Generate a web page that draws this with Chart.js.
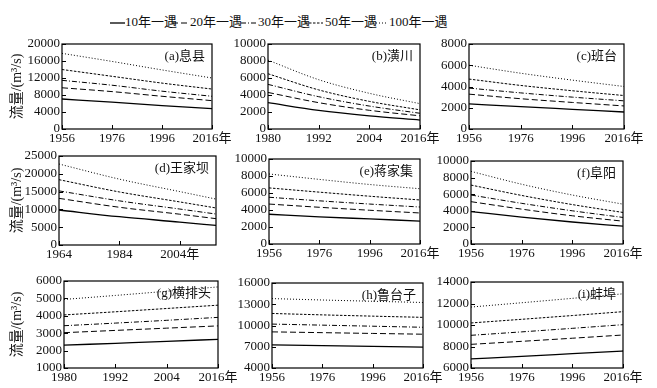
<!DOCTYPE html>
<html>
<head>
<meta charset="utf-8">
<script src="https://cdn.jsdelivr.net/npm/chart.js@4.4.1/dist/chart.umd.min.js"></script>
<style>
  body { margin: 0; background: #fff; width: 657px; height: 388px; position: relative; overflow: hidden;
         font-family: "Liberation Serif", "Times New Roman", "DejaVu Serif", "Noto Sans CJK SC", serif; color: #111; }
  canvas { position: absolute; }
  .leg-line { position: absolute; top: 21px; }
  .leg-text { position: absolute; top: 14px; font-size: 13px; line-height: 16px; white-space: nowrap; }
</style>
</head>
<body>
<div id="legend"></div>
<script>
// return periods, in legend order
const seriesLabels = ['10年一遇', '20年一遇', '30年一遇', '50年一遇', '100年一遇'];

// (a) 息县
const xixianYears = [1956, 1976, 1996, 2016];
const xixianQ = [
  [7060, 6300, 5500, 4800],
  [9700, 8800, 7700, 6670],
  [11450, 10300, 8900, 7700],
  [14000, 12400, 10800, 9400],
  [17800, 15900, 13900, 12000]
];
const xixianYTicks = [0, 4000, 8000, 12000, 16000, 20000];

// (b) 潢川
const huangchuanYears = [1980, 1992, 2004, 2016];
const huangchuanQ = [
  [3100, 2200, 1550, 1050],
  [4300, 3100, 2200, 1550],
  [5250, 3800, 2700, 1850],
  [6500, 4600, 3250, 2250],
  [8100, 5800, 4200, 2980]
];
const huangchuanYTicks = [0, 2000, 4000, 6000, 8000, 10000];

// (c) 班台
const bantaiYears = [1956, 1976, 1996, 2016];
const bantaiQ = [
  [2360, 2100, 1850, 1600],
  [3280, 2850, 2500, 2170],
  [3850, 3400, 3000, 2650],
  [4700, 4100, 3600, 3150],
  [6000, 5250, 4600, 4000]
];
const bantaiYTicks = [0, 2000, 4000, 6000, 8000];

// (d) 王家坝
const wangjiabaYears = [1964, 1984, 2004, 2016];
const wangjiabaQ = [
  [9830, 7950, 6450, 5500],
  [13100, 10600, 8650, 7400],
  [15200, 12400, 10100, 8700],
  [18350, 14900, 12100, 10400],
  [22750, 18500, 15000, 12900]
];
const wangjiabaXTicks = [1964, 1984, 2004];
const wangjiabaYTicks = [0, 5000, 10000, 15000, 20000, 25000];

// (e) 蒋家集
const jiangjiajiYears = [1956, 1976, 1996, 2016];
const jiangjiajiQ = [
  [3500, 3200, 2950, 2700],
  [4700, 4320, 3970, 3650],
  [5500, 5080, 4700, 4350],
  [6600, 6100, 5620, 5180],
  [8240, 7600, 7000, 6500]
];
const jiangjiajiYTicks = [0, 2000, 4000, 6000, 8000, 10000];

// (f) 阜阳
const fuyangYears = [1956, 1976, 1996, 2016];
const fuyangQ = [
  [3900, 3250, 2650, 2150],
  [5100, 4200, 3400, 2750],
  [5900, 4900, 4000, 3200],
  [7100, 5850, 4750, 3800],
  [8750, 7200, 5900, 4800]
];
const fuyangYTicks = [0, 2000, 4000, 6000, 8000, 10000];

// (g) 横排头
const hengpaitouYears = [1980, 1992, 2004, 2016];
const hengpaitouQ = [
  [2310, 2420, 2530, 2650],
  [3030, 3160, 3290, 3420],
  [3430, 3580, 3740, 3910],
  [4050, 4230, 4420, 4610],
  [4940, 5170, 5410, 5660]
];
const hengpaitouYTicks = [1000, 2000, 3000, 4000, 5000, 6000];

// (h) 鲁台子
const lutaiziYears = [1956, 1976, 1996, 2016];
const lutaiziQ = [
  [7270, 7160, 7050, 6950],
  [9100, 8990, 8880, 8770],
  [10200, 10050, 9900, 9750],
  [11700, 11500, 11320, 11150],
  [13800, 13600, 13420, 13250]
];
const lutaiziYTicks = [4000, 7000, 10000, 13000, 16000];

// (i) 蚌埠
const bengbuYears = [1956, 1976, 1996, 2016];
const bengbuQ = [
  [6840, 7080, 7330, 7580],
  [8200, 8480, 8770, 9070],
  [9040, 9360, 9690, 10030],
  [10190, 10530, 10880, 11240],
  [11670, 12070, 12480, 12900]
];
const bengbuYTicks = [6000, 8000, 10000, 12000, 14000];

const FONT = '"Liberation Serif", "Times New Roman", "DejaVu Serif", "Noto Sans CJK SC", serif';
const dashes = [[], [6, 3], [5, 2, 1, 2], [2.5, 1.5], [1, 2]];
const widths = [1.3, 1, 1, 1, 1];

// plot-area boxes (left, top, right, bottom) in page pixels
const panels = [
  { title: '(a)息县', years: xixianYears, q: xixianQ, xTicks: xixianYears, yTicks: xixianYTicks, box: [62, 44, 212, 129], yTitle: true },
  { title: '(b)潢川', years: huangchuanYears, q: huangchuanQ, xTicks: huangchuanYears, yTicks: huangchuanYTicks, box: [268, 44, 420, 129] },
  { title: '(c)班台', years: bantaiYears, q: bantaiQ, xTicks: bantaiYears, yTicks: bantaiYTicks, box: [469, 44, 624, 129] },
  { title: '(d)王家坝', years: wangjiabaYears, q: wangjiabaQ, xTicks: wangjiabaXTicks, yTicks: wangjiabaYTicks, box: [59, 156, 216, 245], yTitle: true },
  { title: '(e)蒋家集', years: jiangjiajiYears, q: jiangjiajiQ, xTicks: jiangjiajiYears, yTicks: jiangjiajiYTicks, box: [269, 159, 420, 244] },
  { title: '(f)阜阳', years: fuyangYears, q: fuyangQ, xTicks: fuyangYears, yTicks: fuyangYTicks, box: [471, 161, 623, 244] },
  { title: '(g)横排头', years: hengpaitouYears, q: hengpaitouQ, xTicks: hengpaitouYears, yTicks: hengpaitouYTicks, box: [64, 281, 218, 368], yTitle: true },
  { title: '(h)鲁台子', years: lutaiziYears, q: lutaiziQ, xTicks: lutaiziYears, yTicks: lutaiziYTicks, box: [272, 283, 423, 368] },
  { title: '(i)蚌埠', years: bengbuYears, q: bengbuQ, xTicks: bengbuYears, yTicks: bengbuYTicks, box: [471, 282, 623, 368] }
];

// legend (html): line start x, line length, text start x
const legendLineX = [110, 172, 241, 305, 370];
const legendLineW = [15, 18, 17, 18, 18];
const legendTextX = [125, 190, 258, 325, 389];
const legendEl = document.getElementById('legend');
seriesLabels.forEach((lab, i) => {
  const s = document.createElementNS('http://www.w3.org/2000/svg', 'svg');
  s.setAttribute('class', 'leg-line');
  s.setAttribute('width', legendLineW[i]);
  s.setAttribute('height', 4);
  s.style.left = legendLineX[i] + 'px';
  s.innerHTML = `<line x1="0" y1="2" x2="${legendLineW[i]}" y2="2" stroke="#000" stroke-width="${widths[i]}" stroke-dasharray="${dashes[i].join(' ') || 'none'}"/>`;
  legendEl.appendChild(s);
  const t = document.createElement('div');
  t.className = 'leg-text';
  t.style.left = legendTextX[i] + 'px';
  t.textContent = lab;
  legendEl.appendChild(t);
});

// box + inward tick marks + panel name
const framePlugin = {
  id: 'frame',
  afterDraw(chart, args, opts) {
    const { ctx, chartArea: a, scales: { x, y } } = chart;
    ctx.save();
    ctx.strokeStyle = '#000';
    ctx.lineWidth = 1.2;
    ctx.strokeRect(a.left, a.top, a.right - a.left, a.bottom - a.top);
    ctx.lineWidth = 1;
    ctx.beginPath();
    x.ticks.forEach(t => {
      const px = Math.round(x.getPixelForValue(t.value)) + 0.5;
      ctx.moveTo(px, a.bottom); ctx.lineTo(px, a.bottom - 4);
    });
    y.ticks.forEach(t => {
      const py = Math.round(y.getPixelForValue(t.value)) + 0.5;
      ctx.moveTo(a.left, py); ctx.lineTo(a.left + 4, py);
    });
    ctx.stroke();
    ctx.fillStyle = '#111';
    ctx.font = '13px ' + FONT;
    ctx.textAlign = 'right';
    ctx.textBaseline = 'middle';
    ctx.fillText(opts.title, a.right - 7, a.top + 13);
    ctx.restore();
  }
};

panels.forEach(p => {
  const [L, T, R, B] = p.box;
  const yW = p.yTitle ? L : 58;
  const topPad = 9, rightPad = 28, xH = 24;
  const cv = document.createElement('canvas');
  const w = yW + (R - L) + rightPad;
  const h = topPad + (B - T) + xH;
  cv.width = w; cv.height = h;
  cv.style.left = (L - yW) + 'px';
  cv.style.top = (T - topPad) + 'px';
  cv.style.width = w + 'px'; cv.style.height = h + 'px';
  document.body.appendChild(cv);

  new Chart(cv, {
    type: 'line',
    data: {
      datasets: p.q.map((vals, i) => ({
        label: seriesLabels[i],
        data: vals.map((v, k) => ({ x: p.years[k], y: v })),
        borderColor: '#000',
        borderWidth: widths[i],
        borderDash: dashes[i],
        pointRadius: 0,
        fill: false,
        cubicInterpolationMode: 'monotone'
      }))
    },
    options: {
      responsive: false,
      animation: false,
      devicePixelRatio: 1,
      layout: { padding: { left: 0, top: topPad, right: rightPad, bottom: 0 } },
      plugins: { legend: { display: false }, tooltip: { enabled: false }, frame: { title: p.title } },
      scales: {
        x: {
          type: 'linear',
          min: p.years[0],
          max: p.years[p.years.length - 1],
          grid: { display: false, drawTicks: false },
          border: { display: false },
          afterBuildTicks: s => { s.ticks = p.xTicks.map(v => ({ value: v })); },
          afterFit: s => { s.height = xH; s.paddingLeft = 0; s.paddingRight = 0; },
          ticks: {
            autoSkip: false, maxRotation: 0, padding: 2, color: '#111',
            font: { family: FONT, size: 13 },
            callback: (v, i, ticks) => i === ticks.length - 1 ? v + '年' : String(v)
          }
        },
        y: {
          min: p.yTicks[0],
          max: p.yTicks[p.yTicks.length - 1],
          grid: { display: false, drawTicks: false },
          border: { display: false },
          afterBuildTicks: s => { s.ticks = p.yTicks.map(v => ({ value: v })); },
          afterFit: s => { s.width = yW; s.paddingTop = 0; s.paddingBottom = 0; },
          ticks: {
            autoSkip: false, padding: 2, color: '#111',
            font: { family: FONT, size: 13 },
            callback: v => String(v)
          },
          title: {
            display: !!p.yTitle,
            text: '流量/(m³/s)',
            color: '#111',
            font: { family: FONT, size: 14 },
            padding: { top: 9, bottom: 0 }
          }
        }
      }
    },
    plugins: [framePlugin]
  });
});
</script>
</body>
</html>
